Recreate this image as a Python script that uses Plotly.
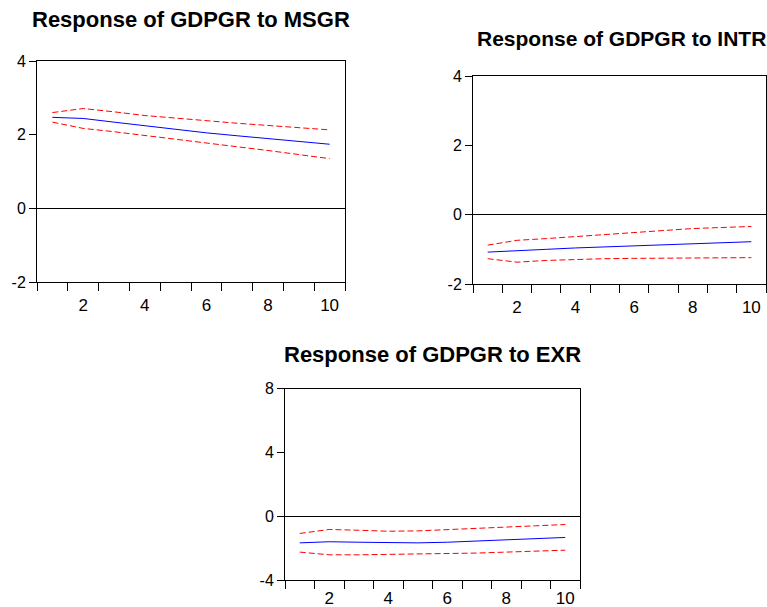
import plotly.graph_objects as go

periods = [1, 2, 3, 4, 5, 6, 7, 8, 9, 10]

msgr_resp = [2.47, 2.44, 2.34, 2.24, 2.15, 2.05, 1.97, 1.90, 1.82, 1.74]
msgr_up = [2.60, 2.71, 2.62, 2.52, 2.45, 2.37, 2.31, 2.25, 2.19, 2.13]
msgr_lo = [2.34, 2.17, 2.08, 1.98, 1.88, 1.77, 1.67, 1.57, 1.46, 1.35]

intr_resp = [-1.08, -1.05, -1.00, -0.96, -0.93, -0.89, -0.86, -0.84, -0.81, -0.78]
intr_up = [-0.88, -0.74, -0.69, -0.63, -0.56, -0.50, -0.45, -0.40, -0.37, -0.34]
intr_lo = [-1.27, -1.37, -1.32, -1.29, -1.27, -1.26, -1.25, -1.25, -1.24, -1.24]

exr_resp = [-1.67, -1.60, -1.63, -1.67, -1.67, -1.63, -1.56, -1.46, -1.40, -1.33]
exr_up = [-1.08, -0.83, -0.88, -0.94, -0.92, -0.83, -0.75, -0.67, -0.60, -0.52]
exr_lo = [-2.25, -2.42, -2.42, -2.40, -2.38, -2.35, -2.31, -2.25, -2.19, -2.13]

titles = ["Response of GDPGR to MSGR", "Response of GDPGR to INTR", "Response of GDPGR to EXR"]
x_ticks = [2, 4, 6, 8, 10]
x_ticklabels = ["2", "4", "6", "8", "10"]
y_ticks = [[-2, 0, 2, 4], [-2, 0, 2, 4], [-4, 0, 4, 8]]
y_ticklabels = [["-2", "0", "2", "4"], ["-2", "0", "2", "4"], ["-4", "0", "4", "8"]]
y_ranges = [[-2, 4], [-2, 4], [-4, 8]]

W, H = 767, 607
# pixel boxes in window coordinates: left, right, top, bottom
boxes = [(37, 345, 61, 282), (473, 766, 76, 284), (285, 580, 388.7, 580)]
title_pos = [(191, 20), (621, 38), (433, 354)]
title_sizes = [22, 21, 22]
label_standoffs = [8, 8, 3]

def px_x(p):
    return p / W

def px_y(p):
    return 1 - p / H

series = [(msgr_resp, msgr_up, msgr_lo), (intr_resp, intr_up, intr_lo), (exr_resp, exr_up, exr_lo)]

fig = go.Figure()
xtick_font = dict(family="Liberation Sans, Arial, sans-serif", size=17, color="black")
ytick_font = dict(family="Liberation Sans, Arial, sans-serif", size=16, color="black")
band_line = dict(color="red", width=1, dash="6px,3px")

for i, (resp, up, lo) in enumerate(series):
    n = "" if i == 0 else str(i + 1)
    xa, ya = "x" + n, "y" + n
    fig.add_trace(go.Scatter(x=periods, y=up, mode="lines", line=band_line,
                             xaxis=xa, yaxis=ya, showlegend=False))
    fig.add_trace(go.Scatter(x=periods, y=lo, mode="lines", line=band_line,
                             xaxis=xa, yaxis=ya, showlegend=False))
    fig.add_trace(go.Scatter(x=periods, y=resp, mode="lines", line=dict(color="blue", width=1),
                             xaxis=xa, yaxis=ya, showlegend=False))
    l, r, t, b = boxes[i]
    fig.update_layout(**{
        "xaxis" + n: dict(domain=[px_x(l), px_x(r)], range=[0.5, 10.5], anchor=ya, automargin=False,
                          tickmode="array", tickvals=x_ticks, ticktext=x_ticklabels, ticks="",
                          showgrid=False, zeroline=False, showline=True, linecolor="black",
                          linewidth=1, mirror=True, tickfont=xtick_font,
                          ticklabelstandoff=label_standoffs[i],
                          minor=dict(tickmode="array", tickvals=[k + 0.5 for k in range(0, 11)],
                                     ticks="outside", ticklen=8, tickcolor="black", tickwidth=1,
                                     showgrid=False)),
        "yaxis" + n: dict(domain=[px_y(b), px_y(t)], range=y_ranges[i], anchor=xa, automargin=False,
                          tickmode="array", tickvals=y_ticks[i], ticktext=y_ticklabels[i],
                          ticks="outside", ticklen=7, tickcolor="black", showgrid=False,
                          zeroline=True, zerolinecolor="black", zerolinewidth=1,
                          showline=True, linecolor="black", linewidth=1, mirror=True,
                          tickfont=ytick_font),
    })
    tx, ty = title_pos[i]
    fig.add_annotation(text="<b>" + titles[i] + "</b>", x=px_x(tx), y=px_y(ty), xref="paper", yref="paper",
                       xanchor="center", yanchor="middle", showarrow=False,
                       font=dict(family="Liberation Sans Narrow, Arial Narrow, Liberation Sans, sans-serif",
                                 size=title_sizes[i], color="black"))

fig.update_layout(width=W, height=H, margin=dict(l=0, r=0, t=0, b=0),
                  plot_bgcolor="white", paper_bgcolor="white")
fig.write_html("out.html", config={"displayModeBar": False},
               post_script="document.body.style.margin='0';document.body.style.overflow='hidden';")
